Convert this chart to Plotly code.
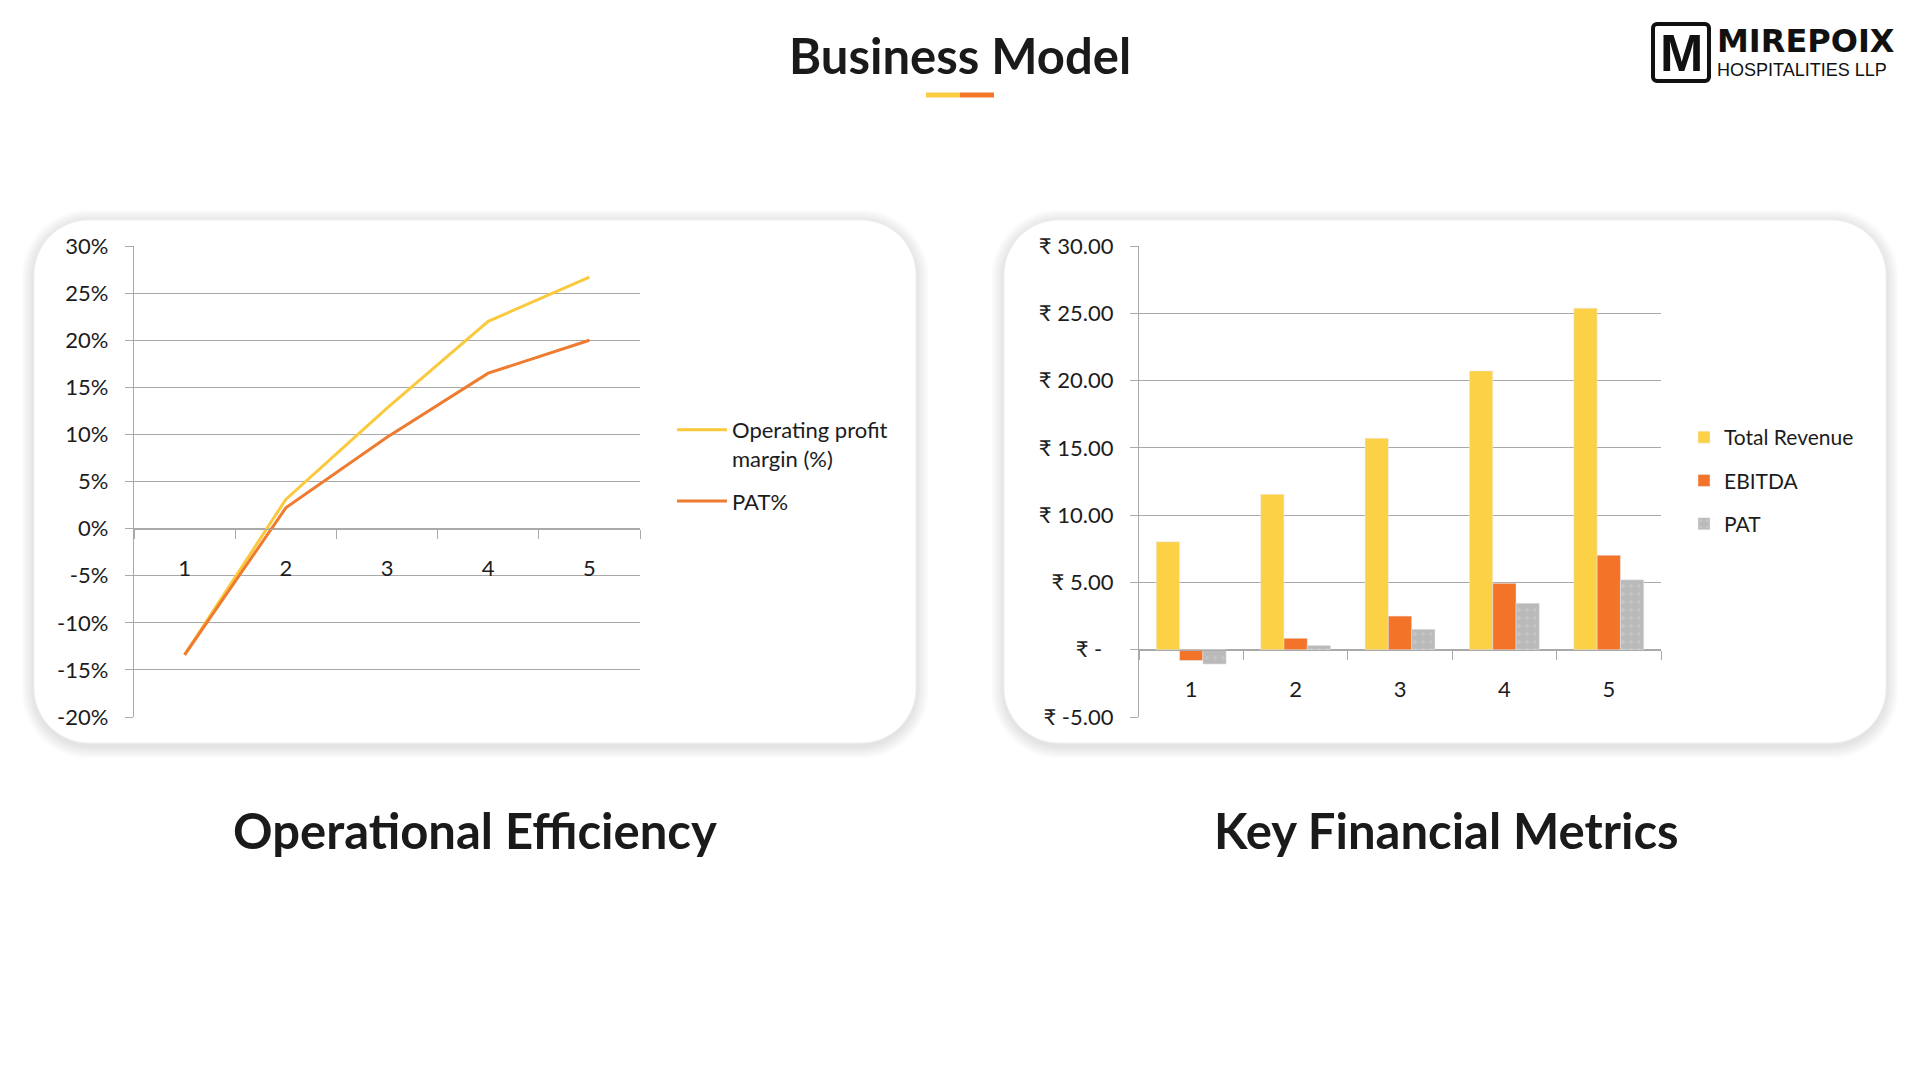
import plotly.graph_objects as go

W, H = 1920, 1080

# --- data ---
years = ["1", "2", "3", "4", "5"]

op_margin = [-13.4, 3.1, 12.8, 22.0, 26.7]   # Operating profit margin (%)
pat_pct = [-13.4, 2.2, 9.7, 16.5, 20.0]      # PAT %

pct_ticks = [-20, -15, -10, -5, 0, 5, 10, 15, 20, 25, 30]
pct_labels = ["-20%", "-15%", "-10%", "-5%", "0%", "5%",
              "10%", "15%", "20%", "25%", "30%"]

revenue = [8.02, 11.55, 15.72, 20.72, 25.38]
ebitda = [-0.80, 0.85, 2.50, 4.93, 7.02]
pat = [-1.07, 0.32, 1.52, 3.46, 5.20]

inr_ticks = [-5, 0, 5, 10, 15, 20, 25, 30]
inr_labels = ["₹ -5.00", "₹ -  ", "₹ 5.00", "₹ 10.00", "₹ 15.00",
              "₹ 20.00", "₹ 25.00", "₹ 30.00"]

YELLOW = "#FBC93D"
ORANGE = "#EE7B30"
BAR_YELLOW = "#FCD146"
BAR_ORANGE = "#F37428"
BAR_GREY = "#BBBABA"
GRID = "#A9A9A9"
TXT = "#1c1c1c"
FONT = "Lato, 'Open Sans', sans-serif"


def fx(x):
    return x / W


def fy(y):
    return 1 - y / H


def rounded_path(x0, y0, x1, y1, r):
    k = 0.5523 * r
    pts = [
        ("M", [(x0 + r, y0)]),
        ("L", [(x1 - r, y0)]),
        ("C", [(x1 - r + k, y0), (x1, y0 + r - k), (x1, y0 + r)]),
        ("L", [(x1, y1 - r)]),
        ("C", [(x1, y1 - r + k), (x1 - r + k, y1), (x1 - r, y1)]),
        ("L", [(x0 + r, y1)]),
        ("C", [(x0 + r - k, y1), (x0, y1 - r + k), (x0, y1 - r)]),
        ("L", [(x0, y0 + r)]),
        ("C", [(x0, y0 + r - k), (x0 + r - k, y0), (x0 + r, y0)]),
    ]
    out = ""
    for cmd, p in pts:
        out += cmd + " " + " ".join(f"{fx(a):.5f},{fy(b):.5f}" for a, b in p) + " "
    return out + "Z"


fig = go.Figure()

# left: operational efficiency
fig.add_trace(go.Scatter(
    x=years, y=op_margin, mode="lines", name="Operating profit<br>margin (%)",
    line=dict(color=YELLOW, width=3), xaxis="x", yaxis="y",
    legend="legend", legendgroup="a", hoverinfo="skip"))
fig.add_trace(go.Scatter(
    x=years, y=pat_pct, mode="lines", name="PAT%",
    line=dict(color=ORANGE, width=3), xaxis="x", yaxis="y",
    legend="legend", legendgroup="b", hoverinfo="skip"))

# right: key financial metrics
fig.add_trace(go.Bar(
    x=years, y=revenue, name="Total Revenue", marker_color=BAR_YELLOW,
    xaxis="x2", yaxis="y2", legend="legend2", legendgroup="c", hoverinfo="skip"))
fig.add_trace(go.Bar(
    x=years, y=ebitda, name="EBITDA", marker_color=BAR_ORANGE,
    xaxis="x2", yaxis="y2", legend="legend2", legendgroup="d", hoverinfo="skip"))
fig.add_trace(go.Bar(
    x=years, y=pat, name="PAT",
    marker=dict(color=BAR_GREY, pattern=dict(shape=".", fgcolor="#d2d2d2",
                                             size=8, solidity=0.15)),
    xaxis="x2", yaxis="y2", legend="legend2", legendgroup="e", hoverinfo="skip"))

# plot areas (pixels)
ydom = [fy(717), fy(246)]
left_range = [pct_ticks[0], pct_ticks[-1]]
right_range = [inr_ticks[0], inr_ticks[-1]]
cat_range = [-0.5, len(years) - 0.5]


def zero_pos(rng):
    return ydom[0] + (0 - rng[0]) / (rng[1] - rng[0]) * (ydom[1] - ydom[0])


xcommon = dict(type="category", showgrid=False, showline=True, linecolor=GRID,
               linewidth=1.3, ticks="outside", tickson="boundaries", ticklen=9,
               tickcolor=GRID, tickwidth=1.3, anchor="free", range=cat_range,
               tickfont=dict(family=FONT, size=22, color=TXT), automargin=False,
               ticklabelstandoff=20, fixedrange=True)
ycommon = dict(showgrid=True, gridcolor=GRID, gridwidth=1.3, showline=True,
               linecolor=GRID, linewidth=1.3, ticks="outside", ticklen=8,
               tickcolor=GRID, tickwidth=1.3, zeroline=False, automargin=False,
               tickfont=dict(family=FONT, size=22, color=TXT),
               ticklabelstandoff=12, domain=ydom, fixedrange=True)

fig.update_layout(
    width=W, height=H,
    margin=dict(l=0, r=0, t=0, b=0, autoexpand=False),
    paper_bgcolor="white", plot_bgcolor="rgba(0,0,0,0)",
    barmode="group", bargap=0.33, bargroupgap=0,
    showlegend=True,
    xaxis=dict(xcommon, domain=[fx(134), fx(640)], position=zero_pos(left_range)),
    yaxis=dict(ycommon, range=left_range, tickvals=pct_ticks, ticktext=pct_labels),
    xaxis2=dict(xcommon, domain=[fx(1139), fx(1661)], position=zero_pos(right_range)),
    yaxis2=dict(ycommon, range=right_range, tickvals=inr_ticks, ticktext=inr_labels,
                anchor="x2"),
    legend=dict(x=fx(672), y=fy(409), xanchor="left", yanchor="top",
                font=dict(family=FONT, size=22, color=TXT), valign="top",
                itemwidth=50, tracegroupgap=11, bgcolor="rgba(0,0,0,0)"),
    legend2=dict(x=fx(1684), y=fy(417), xanchor="left", yanchor="top",
                 font=dict(family=FONT, size=21, color=TXT),
                 tracegroupgap=13, bgcolor="rgba(0,0,0,0)"),
)

# cards with soft shadow
cards = [(34, 220, 916, 743), (1004, 220, 1886, 743)]
shapes = []
for x0, y0, x1, y1 in cards:
    for i in range(9, 0, -1):
        e = i * 1.4
        shapes.append(dict(type="path", xref="paper", yref="paper", layer="below",
                           path=rounded_path(x0 - e, y0 - e + 2, x1 + e, y1 + e + 3, 55 + e),
                           fillcolor="rgba(0,0,0,0.013)", line=dict(width=0)))
    shapes.append(dict(type="path", xref="paper", yref="paper", layer="below",
                       path=rounded_path(x0, y0, x1, y1, 55),
                       fillcolor="white", line=dict(color="#f1f1f1", width=1)))

# title underline
shapes.append(dict(type="line", xref="paper", yref="paper", x0=fx(926), x1=fx(960),
                   y0=fy(95), y1=fy(95), line=dict(color="#FCCB44", width=5)))
shapes.append(dict(type="line", xref="paper", yref="paper", x0=fx(960), x1=fx(994),
                   y0=fy(95), y1=fy(95), line=dict(color="#F3772A", width=5)))

# logo box
shapes.append(dict(type="path", xref="paper", yref="paper",
                   path=rounded_path(1653, 24, 1709, 81, 4),
                   fillcolor="rgba(0,0,0,0)", line=dict(color="#111", width=4)))
fig.update_layout(shapes=shapes)

ann = [
    dict(text="<b>Business Model</b>", x=fx(960), y=fy(55),
         font=dict(family=FONT, size=49, color="#1a1a1a")),
    dict(text="<b>Operational Efficiency</b>", x=fx(475), y=fy(830),
         font=dict(family=FONT, size=49, color="#1a1a1a")),
    dict(text="<b>Key Financial Metrics</b>", x=fx(1446), y=fy(830),
         font=dict(family=FONT, size=49, color="#1a1a1a")),
    dict(text="<b>M</b>", x=fx(1681), y=fy(53),
         font=dict(family="'Liberation Sans', Arial, sans-serif", size=52, color="#111")),
    dict(text="<b>MIREPOIX</b>", x=fx(1716), y=fy(41), xanchor="left", height=28,
         font=dict(family="'DejaVu Sans', sans-serif", size=32, color="#111")),
    dict(text="HOSPITALITIES LLP", x=fx(1716), y=fy(70), xanchor="left", height=16,
         font=dict(family="'Liberation Sans', Arial, sans-serif", size=18, color="#111")),
]
for a in ann:
    a.setdefault("xanchor", "center")
    fig.add_annotation(xref="paper", yref="paper", yanchor="middle",
                       showarrow=False, borderpad=0, **a)

# slash through the logo M
fig.add_shape(type="line", xref="paper", yref="paper", x0=fx(1657), y0=fy(61),
              x1=fx(1706), y1=fy(43), line=dict(color="white", width=3))

pin_page = ("document.body.style.margin='0';"
            "document.body.style.overflow='hidden';"
            "var d=document.getElementById('{plot_id}');"
            "d.style.position='fixed';d.style.left='0';d.style.top='0';")
fig.write_html("out.html", config={"displayModeBar": False}, post_script=pin_page)
